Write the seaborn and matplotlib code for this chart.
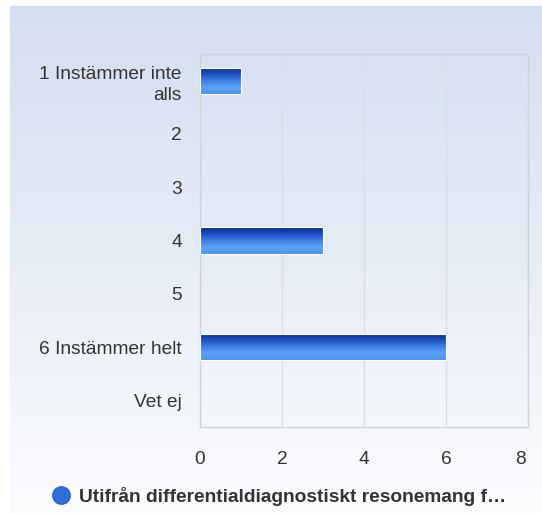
import numpy as np
import pandas as pd
import matplotlib.pyplot as plt
import matplotlib.transforms as mtransforms
import seaborn as sns
from matplotlib.colors import LinearSegmentedColormap
from matplotlib.lines import Line2D

# Data
categories = ['1 Instämmer inte\nalls', '2', '3', '4', '5', '6 Instämmer helt', 'Vet ej']
counts = [1, 0, 0, 3, 0, 6, 0]
series_name = 'Utifrån differentialdiagnostiskt resonemang f…'
x_ticks = [0, 2, 4, 6, 8]

df = pd.DataFrame({'Svar': categories, 'Antal': counts})

sns.set_style('white')
plt.rcParams['font.family'] = ['Liberation Sans', 'DejaVu Sans']

fig = plt.figure(figsize=(5.42, 5.13), dpi=100)
W, H = 542, 513

# gradient panel behind everything
bg = fig.add_axes([10 / W, 0, 1 - 10 / W, 1 - 6 / H], zorder=0)
bg_cmap = LinearSegmentedColormap.from_list('bg', ['#d3deef', '#fbfcfe'])
bg.imshow(np.linspace(0, 1, 256).reshape(-1, 1), aspect='auto', cmap=bg_cmap,
          extent=[0, 1, 0, 1], origin='upper')
bg.axis('off')

ax = fig.add_axes([200 / W, 1 - 427 / H, 328 / W, 373 / H], zorder=1)
ax.patch.set_alpha(0)

sns.barplot(data=df, x='Antal', y='Svar', orient='h', ax=ax, width=0.49,
            color='#2a62c9', edgecolor='white', linewidth=0.8)

# vertical gradient on each bar (dark navy top -> light blue bottom)
bar_cmap = LinearSegmentedColormap.from_list(
    'bar', ['#0b2a86', '#1f4fbf', '#3c7fe6', '#5ea3f5', '#4a8ff0'])
grad = np.linspace(0, 1, 128).reshape(-1, 1)
for p in ax.patches:
    w = p.get_width()
    if w <= 0:
        continue
    y0, h = p.get_y(), p.get_height()
    im = ax.imshow(grad, aspect='auto', cmap=bar_cmap,
                   extent=[0, w, y0 + h, y0], origin='upper', zorder=3)
    im.set_clip_path(p)
    p.set_zorder(4)
    p.set_facecolor('none')

ax.set_xlim(0, 8)
ax.set_ylim(len(categories) - 0.5, -0.5)
ax.set_xticks(x_ticks)
ax.set_xticklabels([str(t) for t in x_ticks])
ax.grid(axis='x', color='#dadde3', linewidth=1)
ax.set_axisbelow(True)
for s in ax.spines.values():
    s.set_color('#cfd2d8')
    s.set_linewidth(1)
ax.tick_params(axis='both', length=0, labelsize=13.8, labelcolor='#333333')
ax.tick_params(axis='x', pad=17)
ax.tick_params(axis='y', pad=13)
for lab in ax.get_yticklabels():
    lab.set_horizontalalignment('right')
    lab.set_multialignment('right')
    lab.set_linespacing(1.3)
# last x label sits a little inside the plot edge
last = ax.get_xticklabels()[-1]
last.set_transform(last.get_transform() +
                   mtransforms.ScaledTranslation(-7 / 100, 0, fig.dpi_scale_trans))
ax.set_xlabel('')
ax.set_ylabel('')

handle = Line2D([], [], marker='o', linestyle='none', markersize=12.5,
                markerfacecolor='#2f6fd8', markeredgecolor='#2a5fc8')
fig.legend([handle], [series_name], loc='center', bbox_to_anchor=(279 / W, 1 - 496 / H),
           frameon=False, handletextpad=0.45, handlelength=1.0,
           prop={'weight': 'bold', 'size': 13.8}, labelcolor='#333333')

fig.savefig('out.png', dpi=100)
